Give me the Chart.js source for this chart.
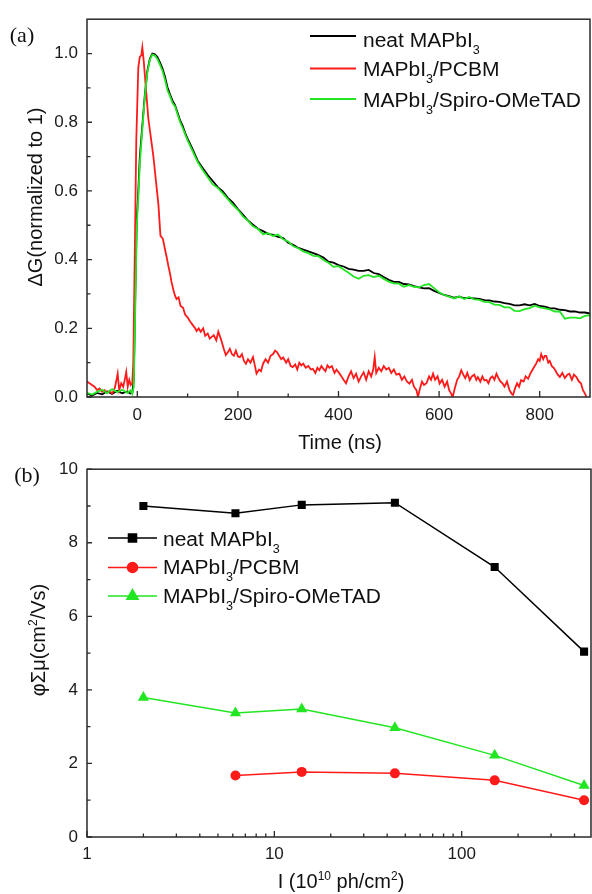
<!DOCTYPE html>
<html>
<head>
<meta charset="utf-8">
<script src="https://cdn.jsdelivr.net/npm/chart.js@4.4.0/dist/chart.umd.min.js"></script>
<style>
  html, body { margin: 0; padding: 0; background: #fff; }
  #wrap { position: relative; width: 592px; height: 894px; }
  canvas { position: absolute; left: 0; }
  #chartA { top: 0; }
  #chartB { top: 450px; }
</style>
</head>
<body>
<div id="wrap">
  <canvas id="chartA" width="592" height="460" style="width:592px;height:460px"></canvas>
  <canvas id="chartB" width="592" height="444" style="width:592px;height:444px"></canvas>
</div>
<script>
// ---- panel (a): normalised photoconductance transients ----
// time grid shared by neat and Spiro traces (ns)
const timeGrid = [-100,-90,-80,-70,-60,-50,-40,-30,-20,-14,-10,-7,-4,-1,2,5,
  10,15,20,25,30,35,40,45,50,55,60,65,70,75,80,85,90,95,100,
  110,120,130,140,150,160,170,180,190,200,
  210,220,230,240,250,260,270,280,290,300,
  310,320,330,340,350,360,370,380,390,400,
  410,420,430,440,450,460,470,480,490,500,
  510,520,530,540,550,560,570,580,590,600,
  610,620,630,640,650,660,670,680,690,700,
  710,720,730,740,750,760,770,780,790,800,
  810,820,830,840,850,860,870,880,890,900];

const neatDecay = [0.010,0.004,0.012,0.008,0.016,0.009,0.018,0.011,0.016,0.010,0.012,0.05,0.30,0.52,0.60,0.70,
  0.79,0.88,0.95,0.985,1.0,0.998,0.99,0.974,0.957,0.933,0.902,0.881,0.863,0.85,0.828,0.806,0.79,0.769,0.752,
  0.722,0.688,0.667,0.646,0.629,0.611,0.599,0.58,0.566,0.547,
  0.531,0.514,0.502,0.49,0.483,0.475,0.472,0.466,0.463,0.449,
  0.443,0.434,0.429,0.424,0.419,0.413,0.406,0.394,0.391,0.384,
  0.38,0.373,0.371,0.367,0.367,0.37,0.361,0.358,0.349,0.341,
  0.335,0.335,0.329,0.328,0.323,0.319,0.316,0.317,0.309,0.303,
  0.297,0.294,0.289,0.292,0.288,0.288,0.287,0.286,0.282,0.281,
  0.278,0.277,0.273,0.271,0.267,0.267,0.27,0.267,0.271,0.265,
  0.263,0.259,0.258,0.254,0.253,0.249,0.249,0.246,0.246,0.243];

const spiroDecay = [0.012,0.007,0.015,0.021,0.011,0.023,0.014,0.021,0.012,0.019,0.009,0.03,0.26,0.50,0.58,0.68,
  0.78,0.875,0.945,0.982,0.997,0.994,0.984,0.968,0.95,0.924,0.893,0.876,0.856,0.846,0.823,0.801,0.784,0.765,0.747,
  0.716,0.684,0.661,0.64,0.619,0.609,0.593,0.576,0.559,0.545,
  0.526,0.513,0.497,0.489,0.474,0.477,0.469,0.473,0.459,0.453,
  0.439,0.433,0.424,0.419,0.411,0.41,0.399,0.391,0.379,0.381,
  0.371,0.362,0.351,0.344,0.353,0.355,0.349,0.353,0.344,0.336,
  0.331,0.33,0.321,0.326,0.321,0.319,0.326,0.329,0.317,0.305,
  0.297,0.292,0.287,0.293,0.285,0.291,0.284,0.283,0.277,0.276,
  0.269,0.268,0.261,0.261,0.251,0.25,0.256,0.259,0.266,0.261,
  0.258,0.255,0.249,0.249,0.228,0.231,0.231,0.229,0.236,0.238];

const timePcbm = [-100,-95,-90,-85,-80,-75,-70,-65,-60,-55,
  -50,-45,-42,-39,-36,-32,-28,-25,-22,-19,
  -16,-13,-10,-8,-5,-2,2,5,8,10,
  13,17,22,27,32,37,42,46,51,55,
  58,62,65,68,72,75,78,82,86,91,
  95,100,105,110,115,118,122,126,131,135,
  140,144,148,152,157,161,164,168,172,176,
  180,184,188,192,196,200,204,208,212,216,
  220,225,230,234,237,242,246,250,255,260,
  265,270,274,278,282,286,290,296,300,305,
  309,314,318,322,326,330,335,340,345,349,
  354,358,362,366,370,374,378,382,387,392,
  396,402,406,410,415,420,425,430,435,440,
  445,450,455,460,465,469,472,475,480,485,
  490,495,500,505,510,515,521,526,531,536,
  541,546,550,555,558,562,566,570,575,580,
  584,588,592,597,601,606,611,616,620,624,
  627,632,636,640,644,648,652,656,661,665,
  670,674,677,682,686,690,694,698,702,706,
  710,714,718,722,726,730,735,740,744,747,
  751,755,759,763,768,772,777,782,786,790,
  793,797,800,803,807,810,813,817,820,824,
  828,832,836,840,845,850,855,859,864,868,
  873,878,882,886,890,893];

const pcbmDecay = [0.045,0.04,0.035,0.03,0.02,0.025,0.015,0.02,0.012,0.018,
  0.01,0.025,0.045,0.068,0.02,0.04,0.03,0.05,0.073,0.03,
  0.05,0.035,0.04,0.1,0.42,0.75,0.96,0.99,0.995,1.018,
  0.975,0.9,0.81,0.755,0.7,0.63,0.56,0.47,0.46,0.43,
  0.41,0.38,0.36,0.335,0.31,0.295,0.285,0.29,0.265,0.26,
  0.24,0.232,0.22,0.21,0.2,0.192,0.2,0.19,0.2,0.178,
  0.185,0.17,0.175,0.18,0.165,0.19,0.178,0.16,0.14,0.122,
  0.13,0.14,0.125,0.12,0.135,0.118,0.116,0.125,0.105,0.097,
  0.11,0.1,0.116,0.09,0.068,0.08,0.075,0.097,0.11,0.1,
  0.12,0.125,0.135,0.13,0.12,0.11,0.115,0.1,0.11,0.09,
  0.087,0.095,0.08,0.1,0.092,0.097,0.085,0.09,0.08,0.082,
  0.07,0.085,0.078,0.09,0.082,0.075,0.092,0.085,0.09,0.07,
  0.08,0.068,0.06,0.05,0.04,0.06,0.075,0.055,0.068,0.045,
  0.06,0.072,0.05,0.075,0.06,0.08,0.116,0.07,0.085,0.075,
  0.09,0.08,0.085,0.07,0.08,0.065,0.068,0.05,0.06,0.045,
  0.039,0.05,0.03,0.02,0.0,0.025,0.045,0.035,0.04,0.06,
  0.05,0.068,0.05,0.06,0.039,0.05,0.03,0.045,0.02,0.01,
  0.0,0.03,0.05,0.06,0.078,0.065,0.055,0.07,0.049,0.06,
  0.065,0.05,0.058,0.045,0.06,0.048,0.05,0.04,0.055,0.06,
  0.05,0.068,0.055,0.045,0.04,0.03,0.045,0.02,0.01,0.006,
  0.025,0.04,0.03,0.049,0.045,0.06,0.053,0.07,0.08,0.09,
  0.097,0.11,0.105,0.125,0.11,0.12,0.12,0.1,0.105,0.09,
  0.085,0.075,0.065,0.058,0.07,0.055,0.065,0.068,0.05,0.065,
  0.058,0.045,0.04,0.02,0.01,0.0];

const timeTicks = [0, 200, 400, 600, 800];
const timeMinor = [100, 300, 500, 700];
const signalTicks = [0, 0.2, 0.4, 0.6, 0.8, 1.0];
const signalMinor = [0.1, 0.3, 0.5, 0.7, 0.9];

// ---- panel (b): mobility vs intensity ----
const intensityNeat = [2, 6.2, 14, 44, 150, 450];
const mobilityNeat = [9.0, 8.8, 9.03, 9.09, 7.34, 5.04];
const intensityPcbm = [6.2, 14, 44, 150, 450];
const mobilityPcbm = [1.67, 1.77, 1.73, 1.54, 1.0];
const intensitySpiro = [2, 6.2, 14, 44, 150, 450];
const mobilitySpiro = [3.79, 3.37, 3.48, 2.97, 2.22, 1.40];

const intensityTicks = [1, 10, 100];
const intensityMinor = [2, 3, 4, 5, 6, 7, 8, 9, 20, 30, 40, 50, 60, 70, 80, 90, 200, 300, 400];
const mobilityTicks = [0, 2, 4, 6, 8, 10];
const mobilityMinor = [1, 3, 5, 7, 9];

const SANS = '"Liberation Sans", Arial, sans-serif';
const RED = '#ff1a1a';
const GREEN = '#22e622';

function toPoints(xs, ys) {
  return xs.map((x, i) => ({ x: x, y: ys[i] }));
}

// text with sub/superscripts, y = middle of the capitals, sx = horizontal stretch
function drawRich(ctx, parts, x, y, size, align, sx) {
  const big = size + 'px ' + SANS;
  const small = Math.round(size * 0.62) + 'px ' + SANS;
  sx = sx || 1;
  let w = 0;
  parts.forEach(p => { ctx.font = p[1] ? small : big; w += ctx.measureText(p[0]).width; });
  ctx.save();
  ctx.translate(x, y);
  ctx.scale(sx, 1);
  let cx = align === 'center' ? -w / 2 : 0;
  ctx.textAlign = 'left';
  ctx.textBaseline = 'alphabetic';
  const base = size * 0.36;
  parts.forEach(p => {
    ctx.font = p[1] ? small : big;
    let dy = 0;
    if (p[1] === 'sub') dy = size * 0.32;
    if (p[1] === 'sup') dy = -size * 0.42;
    ctx.fillText(p[0], cx, base + dy);
    cx += ctx.measureText(p[0]).width;
  });
  ctx.restore();
}

function makeDecor(id, cfg) {
  return {
    id: id,
    afterDraw(chart) {
      const ctx = chart.ctx, a = chart.chartArea;
      const xs = chart.scales.x, ys = chart.scales.y;
      ctx.save();
      // frame
      ctx.strokeStyle = '#2a2a2a';
      ctx.lineWidth = 1.5;
      ctx.strokeRect(a.left, a.top, a.right - a.left, a.bottom - a.top);
      // inward ticks
      ctx.lineWidth = 1.3;
      ctx.beginPath();
      cfg.xMajor.forEach(v => { const p = xs.getPixelForValue(v); ctx.moveTo(p, a.bottom); ctx.lineTo(p, a.bottom - 6); });
      cfg.xMinor.forEach(v => { const p = xs.getPixelForValue(v); ctx.moveTo(p, a.bottom); ctx.lineTo(p, a.bottom - 3.5); });
      cfg.yMajor.forEach(v => { const p = ys.getPixelForValue(v); ctx.moveTo(a.left, p); ctx.lineTo(a.left + 5, p); });
      cfg.yMinor.forEach(v => { const p = ys.getPixelForValue(v); ctx.moveTo(a.left, p); ctx.lineTo(a.left + 3.5, p); });
      ctx.stroke();
      // legend
      cfg.legend.forEach(e => {
        ctx.strokeStyle = e.color;
        ctx.lineWidth = e.width;
        ctx.beginPath();
        ctx.moveTo(cfg.legendX[0], e.y);
        ctx.lineTo(cfg.legendX[1], e.y);
        ctx.stroke();
        if (e.style) {
          ctx.fillStyle = e.color;
          Chart.helpers.drawPoint(ctx, { pointStyle: e.style, radius: e.radius, rotation: 0, borderWidth: 1 },
            (cfg.legendX[0] + cfg.legendX[1]) / 2, e.y);
        }
        ctx.fillStyle = '#111';
        drawRich(ctx, e.parts, cfg.legendX[2], e.ty, 20, 'left', 1.05);
      });
      // panel label
      ctx.fillStyle = '#111';
      ctx.font = '22px "Liberation Serif", "Times New Roman", serif';
      ctx.textAlign = 'center';
      ctx.textBaseline = 'middle';
      ctx.fillText(cfg.panel[0], cfg.panel[1], cfg.panel[2]);
      // axis titles
      drawRich(ctx, cfg.xTitle.parts, cfg.xTitle.x, cfg.xTitle.y, 20, 'center');
      ctx.save();
      ctx.translate(cfg.yTitle.x, cfg.yTitle.y);
      ctx.rotate(-Math.PI / 2);
      drawRich(ctx, cfg.yTitle.parts, 0, 0, 20, 'center');
      ctx.restore();
      ctx.restore();
    }
  };
}

const tickFont = { family: SANS, size: 17 };

function fitX(h) {
  return s => { s.height = h; s.paddingLeft = 0; s.paddingRight = 0; };
}

// ---------- chart (a) ----------
new Chart(document.getElementById('chartA'), {
  type: 'line',
  data: {
    datasets: [
      { label: 'neat MAPbI3', data: toPoints(timeGrid, neatDecay), borderColor: '#000', borderWidth: 1.8, pointRadius: 0, order: 3 },
      { label: 'MAPbI3/PCBM', data: toPoints(timePcbm, pcbmDecay), borderColor: RED, borderWidth: 1.8, pointRadius: 0, order: 2 },
      { label: 'MAPbI3/Spiro-OMeTAD', data: toPoints(timeGrid, spiroDecay), borderColor: GREEN, borderWidth: 1.8, pointRadius: 0, order: 1 }
    ]
  },
  options: {
    responsive: false,
    animation: false,
    layout: { autoPadding: false, padding: { left: 0, right: 2, top: 14, bottom: 0 } },
    plugins: { legend: { display: false }, tooltip: { enabled: false } },
    scales: {
      x: {
        type: 'linear', min: -100, max: 900,
        grid: { display: false, drawTicks: false }, border: { display: false },
        afterBuildTicks: s => { s.ticks = timeTicks.map(v => ({ value: v })); },
        afterFit: fitX(63),
        ticks: { padding: 8, color: '#1a1a1a', font: tickFont, maxRotation: 0, autoSkip: false }
      },
      y: {
        min: 0, max: 1.1,
        grid: { display: false, drawTicks: false }, border: { display: false },
        afterBuildTicks: s => { s.ticks = signalTicks.map(v => ({ value: v })); },
        afterFit: s => { s.width = 87; },
        ticks: { padding: 9, color: '#1a1a1a', font: tickFont, callback: v => Number(v).toFixed(1) }
      }
    }
  },
  plugins: [makeDecor('decorA', {
    xMajor: timeTicks, xMinor: timeMinor, yMajor: signalTicks, yMinor: signalMinor,
    legendX: [310, 356, 363],
    legend: [
      { color: '#000', width: 1.8, y: 36, ty: 40, parts: [['neat MAPbI'], ['3', 'sub']] },
      { color: RED, width: 1.8, y: 68.5, ty: 69, parts: [['MAPbI'], ['3', 'sub'], ['/PCBM']] },
      { color: GREEN, width: 1.8, y: 99, ty: 100, parts: [['MAPbI'], ['3', 'sub'], ['/Spiro-OMeTAD']] }
    ],
    panel: ['(a)', 22, 36],
    xTitle: { parts: [['Time (ns)']], x: 340, y: 442 },
    yTitle: { parts: [['ΔG(normalized to 1)']], x: 35, y: 197 }
  })]
});

// ---------- chart (b) ----------
new Chart(document.getElementById('chartB'), {
  type: 'line',
  data: {
    datasets: [
      { label: 'neat MAPbI3', data: toPoints(intensityNeat, mobilityNeat), borderColor: '#000', backgroundColor: '#000',
        borderWidth: 1.5, pointStyle: 'rect', pointRadius: 5.7, pointBorderWidth: 0 },
      { label: 'MAPbI3/PCBM', data: toPoints(intensityPcbm, mobilityPcbm), borderColor: RED, backgroundColor: RED,
        borderWidth: 1.5, pointStyle: 'circle', pointRadius: 5, pointBorderWidth: 0 },
      { label: 'MAPbI3/Spiro-OMeTAD', data: toPoints(intensitySpiro, mobilitySpiro), borderColor: GREEN, backgroundColor: GREEN,
        borderWidth: 1.5, pointStyle: 'triangle', pointRadius: 6.5, pointBorderWidth: 0 }
    ]
  },
  options: {
    responsive: false,
    animation: false,
    layout: { autoPadding: false, padding: { left: 0, right: 1, top: 18, bottom: 0 } },
    plugins: { legend: { display: false }, tooltip: { enabled: false } },
    scales: {
      x: {
        type: 'logarithmic', min: 1, max: 490,
        grid: { display: false, drawTicks: false }, border: { display: false },
        afterBuildTicks: s => { s.ticks = intensityTicks.map(v => ({ value: v })); },
        afterFit: fitX(57),
        ticks: { padding: 7, color: '#1a1a1a', font: tickFont, maxRotation: 0, autoSkip: false, callback: v => String(v) }
      },
      y: {
        min: 0, max: 10,
        grid: { display: false, drawTicks: false }, border: { display: false },
        afterBuildTicks: s => { s.ticks = mobilityTicks.map(v => ({ value: v })); },
        afterFit: s => { s.width = 87; },
        ticks: { padding: 9, color: '#1a1a1a', font: tickFont, callback: v => String(v) }
      }
    }
  },
  plugins: [makeDecor('decorB', {
    xMajor: intensityTicks, xMinor: intensityMinor, yMajor: mobilityTicks, yMinor: mobilityMinor,
    legendX: [108, 157, 163],
    legend: [
      { color: '#000', width: 1.5, y: 88, ty: 89, style: 'rect', radius: 5.7, parts: [['neat MAPbI'], ['3', 'sub']] },
      { color: RED, width: 1.5, y: 117.5, ty: 117, style: 'circle', radius: 5, parts: [['MAPbI'], ['3', 'sub'], ['/PCBM']] },
      { color: GREEN, width: 1.5, y: 146, ty: 146, style: 'triangle', radius: 6.5, parts: [['MAPbI'], ['3', 'sub'], ['/Spiro-OMeTAD']] }
    ],
    panel: ['(b)', 27, 26],
    xTitle: { parts: [['I (10'], ['10', 'sup'], [' ph/cm'], ['2', 'sup'], [')']], x: 341, y: 431 },
    yTitle: { parts: [['φΣμ(cm'], ['2', 'sup'], ['/Vs)']], x: 38, y: 190 }
  })]
});
</script>
</body>
</html>
